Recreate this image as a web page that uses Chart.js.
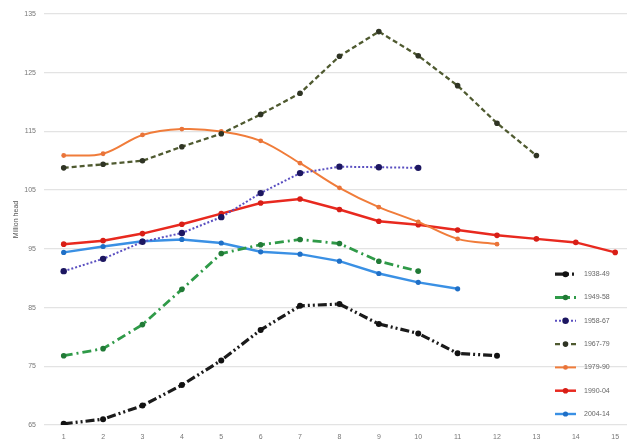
<!DOCTYPE html>
<html>
<head>
<meta charset="utf-8">
<script src="https://cdn.jsdelivr.net/npm/chart.js@4.4.1/dist/chart.umd.min.js"></script>
<style>
html,body{margin:0;padding:0;background:#fff;}
#wrap{width:631px;height:447px;position:relative;}
</style>
</head>
<body>
<div id="wrap"><canvas id="c"></canvas></div>
<script>
// Year of cycle (x tick labels)
const cycleYears = [1,2,3,4,5,6,7,8,9,10,11,12,13,14,15];
const yTicks = [65,75,85,95,105,115,125,135];
const seriesNames = ["1938-49","1949-58","1958-67","1967-79","1979-90","1990-04","2004-14"];
// Cattle inventory, million head
const c1938 = [65.2,66.0,68.3,71.8,76.0,81.2,85.3,85.6,82.2,80.6,77.2,76.8];
const c1949 = [76.8,78.0,82.1,88.1,94.2,95.7,96.6,95.9,92.9,91.2];
const c1958 = [91.2,93.3,96.2,97.7,100.4,104.5,107.9,109.0,108.9,108.8];
const c1967 = [108.8,109.4,110.0,112.4,114.6,117.9,121.5,127.8,132.0,127.9,122.8,116.4,110.9];
const c1979 = [110.9,111.2,114.4,115.4,115.0,113.4,109.6,105.4,102.1,99.6,96.7,95.8];
const c1990 = [95.8,96.4,97.6,99.2,101.0,102.8,103.5,101.7,99.7,99.1,98.2,97.3,96.7,96.1,94.4];
const c2004 = [94.4,95.4,96.3,96.6,96.0,94.5,94.1,92.9,90.8,89.3,88.2];

const seriesValues = [c1938,c1949,c1958,c1967,c1979,c1990,c2004];
const styles = [
  {color:'#1b1b1b', point:'#111111', width:3.2, dash:[9,3,2,3,2,3], r:3, tension:0},
  {color:'#2f9a48', point:'#217a36', width:2.8, dash:[9,4,2,4], r:2.8, tension:0},
  {color:'#5a4fc0', point:'#1c1660', width:2, dash:[2,2], r:3.2, tension:0},
  {color:'#4f5a30', point:'#2f3424', width:2.3, dash:[5,3], r:2.8, tension:0},
  {color:'#f07c3a', point:'#e9743a', width:2, dash:[], r:2.4, tension:0.35},
  {color:'#e8291f', point:'#d81e16', width:2.5, dash:[], r:2.8, tension:0},
  {color:'#3a90e4', point:'#1f6fc6', width:2.4, dash:[], r:2.6, tension:0}
];

const datasets = seriesValues.map((vals,i)=>({
  label: seriesNames[i],
  data: vals.map((v,j)=>({x:cycleYears[j], y:v})),
  borderColor: styles[i].color,
  backgroundColor: styles[i].point,
  pointBackgroundColor: styles[i].point,
  pointBorderColor: styles[i].point,
  pointBorderWidth: 0,
  pointRadius: styles[i].r,
  borderWidth: styles[i].width,
  borderDash: styles[i].dash,
  tension: styles[i].tension,
  fill: false
}));

const sideLegend = {
  id:'sideLegend',
  afterDraw(chart){
    const ctx = chart.ctx;
    const ca = chart.chartArea;
    const n = chart.data.datasets.length;
    ctx.save();
    chart.data.datasets.forEach((ds,i)=>{
      const y = ca.bottom - 11 - (n-1-i)*23.3;
      const x0 = ca.right - 72, x1 = ca.right - 51;
      ctx.beginPath();
      ctx.setLineDash(ds.borderDash);
      ctx.strokeStyle = ds.borderColor;
      ctx.lineWidth = ds.borderWidth;
      ctx.moveTo(x0,y); ctx.lineTo(x1,y); ctx.stroke();
      ctx.setLineDash([]);
      ctx.beginPath();
      ctx.fillStyle = ds.pointBackgroundColor;
      ctx.arc((x0+x1)/2, y, ds.pointRadius, 0, Math.PI*2);
      ctx.fill();
      ctx.fillStyle = '#666';
      ctx.font = '7px "Liberation Sans", Arial, sans-serif';
      ctx.textBaseline = 'middle';
      ctx.textAlign = 'left';
      ctx.fillText(ds.label, ca.right - 43, y);
    });
    ctx.restore();
  }
};

new Chart(document.getElementById('c'), {
  type:'line',
  data:{datasets},
  plugins:[sideLegend],
  options:{
    responsive:true,
    maintainAspectRatio:false,
    animation:false,
    layout:{padding:{left:0,right:0,top:14,bottom:0}},
    plugins:{legend:{display:false}, tooltip:{enabled:false}},
    scales:{
      x:{
        type:'linear',
        min:0.5, max:15.3,
        grid:{display:false, drawTicks:false},
        border:{display:false},
        afterBuildTicks(s){ s.ticks = cycleYears.map(v=>({value:v})); },
        afterFit(s){ s.height = 22; },
        ticks:{padding:8, color:'#777', font:{size:7, family:'"Liberation Sans", Arial, sans-serif'}, callback:(v)=>String(v), maxRotation:0, autoSkip:false}
      },
      y:{
        min:65, max:135,
        afterBuildTicks(s){ s.ticks = yTicks.map(v=>({value:v})); },
        afterFit(s){ s.width = 44; },
        grid:{color:'#e3e3e3', lineWidth:1.3, drawTicks:false},
        border:{display:false},
        ticks:{padding:8, color:'#777', font:{size:7, family:'"Liberation Sans", Arial, sans-serif'}},
        title:{display:true, text:'Million head', color:'#555', font:{size:7, family:'"Liberation Sans", Arial, sans-serif'}, padding:{top:12,bottom:0}}
      }
    }
  }
});
</script>
</body>
</html>
